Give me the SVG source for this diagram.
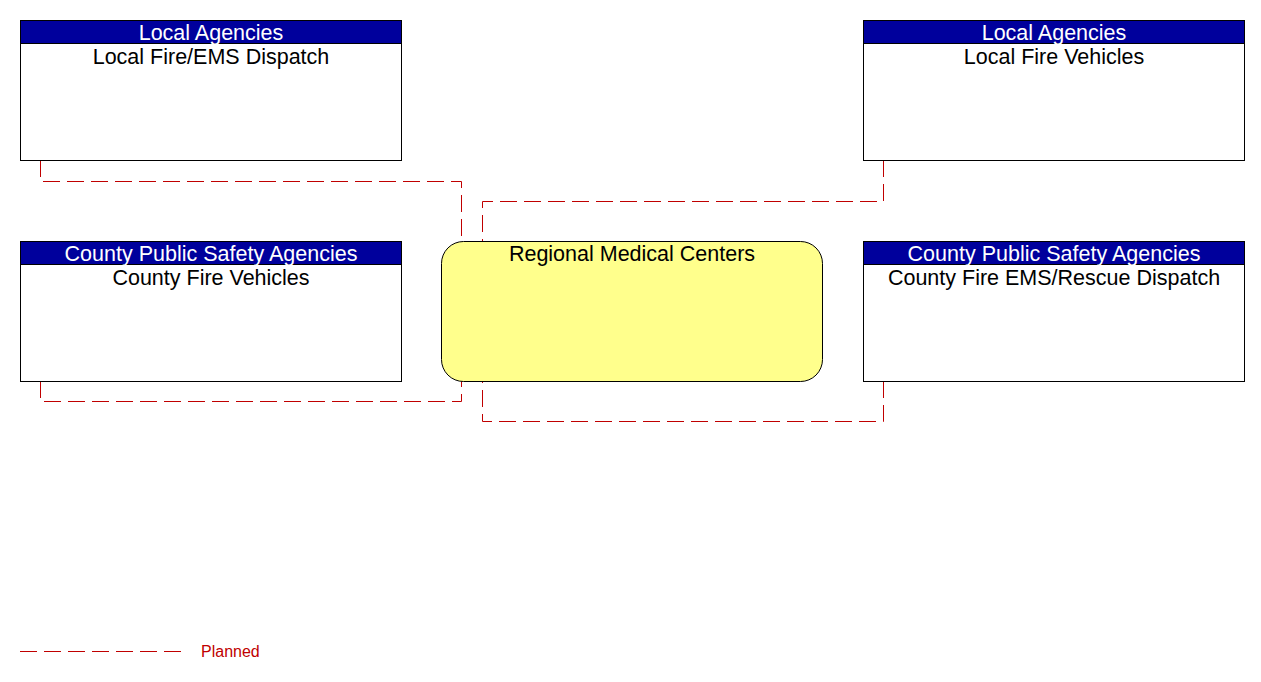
<svg xmlns="http://www.w3.org/2000/svg" width="1261" height="682" viewBox="0 0 1261 682">
<style>
.box{fill:#fff;stroke:#000;stroke-width:1}
.hdr{fill:#00009c;stroke:#000;stroke-width:1}
.ht{font-family:"Liberation Sans",Arial,sans-serif;font-size:21.5px;fill:#fff;text-anchor:middle}
.nt{font-family:"Liberation Sans",Arial,sans-serif;font-size:21.5px;fill:#000;text-anchor:middle}
.con{fill:none;stroke:#c00000;stroke-width:1;stroke-dasharray:17 7}
.leg{font-family:"Liberation Sans",Arial,sans-serif;font-size:16px;fill:#c00000}
</style>
<rect width="1261" height="682" fill="#fff"/>
<g id="connectors">
<polyline class="con" points="40.5,160 40.5,181.5 461.5,181.5 461.5,241"/>
<polyline class="con" points="883.5,160 883.5,201.5 482.5,201.5 482.5,241"/>
<polyline class="con" points="40.5,381 40.5,401.5 461.5,401.5 461.5,381"/>
<polyline class="con" points="883.5,381 883.5,421.5 482.5,421.5 482.5,381"/>
</g>
<g id="local-fire-ems-dispatch">
<rect class="box" x="20.5" y="20.5" width="381" height="140"/>
<rect class="hdr" x="20.5" y="20.5" width="381" height="23"/>
<text class="ht" x="211" y="40">Local Agencies</text>
<text class="nt" x="211" y="64">Local Fire/EMS Dispatch</text>
</g>
<g id="local-fire-vehicles">
<rect class="box" x="863.5" y="20.5" width="381" height="140"/>
<rect class="hdr" x="863.5" y="20.5" width="381" height="23"/>
<text class="ht" x="1054" y="40">Local Agencies</text>
<text class="nt" x="1054" y="64">Local Fire Vehicles</text>
</g>
<g id="county-fire-vehicles">
<rect class="box" x="20.5" y="241.5" width="381" height="140"/>
<rect class="hdr" x="20.5" y="241.5" width="381" height="23"/>
<text class="ht" x="211" y="261">County Public Safety Agencies</text>
<text class="nt" x="211" y="285">County Fire Vehicles</text>
</g>
<g id="county-fire-ems-rescue-dispatch">
<rect class="box" x="863.5" y="241.5" width="381" height="140"/>
<rect class="hdr" x="863.5" y="241.5" width="381" height="23"/>
<text class="ht" x="1054" y="261">County Public Safety Agencies</text>
<text class="nt" x="1054" y="285">County Fire EMS/Rescue Dispatch</text>
</g>
<g id="regional-medical-centers">
<rect x="441.5" y="241.5" width="381" height="140" rx="22" ry="22" fill="#ffff8c" stroke="#000" stroke-width="1"/>
<text class="nt" x="632" y="261">Regional Medical Centers</text>
</g>
<g id="legend">
<line class="con" x1="20" y1="651.5" x2="181" y2="651.5"/>
<text class="leg" x="201" y="657">Planned</text>
</g>
</svg>
